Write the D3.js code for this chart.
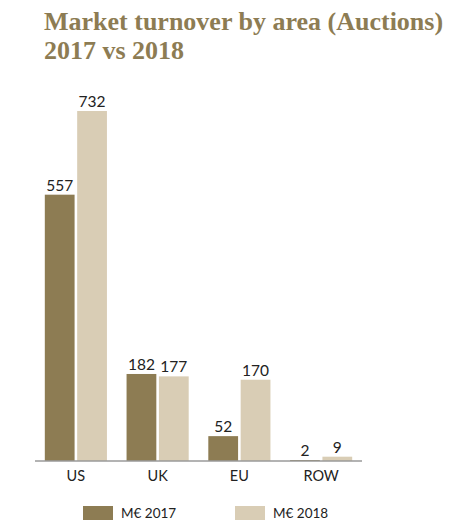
<!DOCTYPE html>
<html>
<head>
<meta charset="utf-8">
<script src="https://cdn.jsdelivr.net/npm/d3@7"></script>
<style>
  body { margin: 0; background: #fff; }
</style>
</head>
<body>
<svg width="462" height="531"></svg>
<script>
const areas = ["US", "UK", "EU", "ROW"]
const years = ["2017", "2018"]
const values2017 = [557, 182, 52, 2]
const values2018 = [732, 177, 170, 9]
const legendLabels = ["M€ 2017", "M€ 2018"]
const titleLines = ["Market turnover by area (Auctions)", "2017 vs 2018"]

const colors = { "2017": "#8d7c53", "2018": "#d9cdb5" }

const svg = d3.select("svg")
const baseline = 461

// title
svg.append("g")
    .selectAll("text")
    .data(titleLines)
    .join("text")
    .attr("x", 44)
    .attr("y", (d, i) => 30 + i * 29)
    .attr("font-family", "Liberation Serif, serif")
    .attr("font-weight", "bold")
    .attr("font-size", 26)
    .attr("fill", "#8d7c53")
    .text(d => d)

const rows = areas.map((a, i) => ({ area: a, "2017": values2017[i], "2018": values2018[i] }))

const x0 = d3.scaleBand()
    .domain(areas)
    .range([35, 362])
    .paddingInner(0.24)
    .paddingOuter(0.12)

const x1 = d3.scaleBand()
    .domain(years)
    .range([0, x0.bandwidth()])
    .paddingInner(0.08)

const y = d3.scaleLinear()
    .domain([0, 732])
    .range([baseline, 111])

const groups = svg.append("g")
    .selectAll("g")
    .data(rows)
    .join("g")
    .attr("transform", d => `translate(${x0(d.area)},0)`)

const bars = groups.selectAll("g")
    .data(d => years.map(yr => ({ year: yr, value: d[yr] })))
    .join("g")

bars.append("rect")
    .attr("x", d => x1(d.year))
    .attr("y", d => y(d.value))
    .attr("width", x1.bandwidth())
    .attr("height", d => baseline - y(d.value))
    .attr("fill", d => colors[d.year])

bars.append("text")
    .attr("x", d => x1(d.year) + x1.bandwidth() / 2)
    .attr("y", d => y(d.value) - 4)
    .attr("text-anchor", "middle")
    .attr("font-family", "Lato, sans-serif")
    .attr("font-size", 15.5)
    .attr("fill", "#222")
    .text(d => d.value)

// axis
const axis = svg.append("g")
    .attr("transform", `translate(0,${baseline})`)
    .call(d3.axisBottom(x0).tickSize(0).tickPadding(10))

axis.select(".domain")
    .attr("stroke", "#9a9a9a")
    .attr("stroke-width", 1.6)
    .attr("d", "M35,0H362")

axis.selectAll("text")
    .attr("font-family", "Lato, sans-serif")
    .attr("font-size", 14.5)
    .attr("fill", "#222")

// legend
const legend = svg.append("g")
    .selectAll("g")
    .data(years)
    .join("g")
    .attr("transform", (d, i) => `translate(${83 + i * 152},506)`)

legend.append("rect")
    .attr("width", 30)
    .attr("height", 14)
    .attr("fill", d => colors[d])

legend.append("text")
    .attr("x", 38)
    .attr("y", 12)
    .attr("font-family", "Lato, sans-serif")
    .attr("font-size", 13.5)
    .attr("fill", "#222")
    .text((d, i) => legendLabels[i])
</script>
</body>
</html>
